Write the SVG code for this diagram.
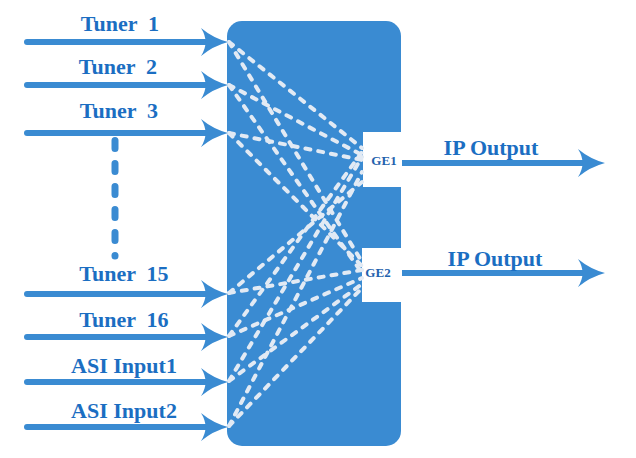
<svg xmlns="http://www.w3.org/2000/svg" width="636" height="458" viewBox="0 0 636 458">
<style>
.lbl{font-family:"Liberation Serif","Times New Roman",serif;font-weight:bold;font-size:22px;fill:#1b6ec2;text-anchor:middle;white-space:pre}
.ge{font-family:"Liberation Serif","Times New Roman",serif;font-weight:bold;font-size:13px;fill:#1f62ad;text-anchor:middle}
.shaft{stroke:#3a8bd2;stroke-width:6;stroke-linecap:round;fill:none}
.head{fill:#3a8bd2}
.dash{stroke:#e2eaf4;stroke-width:4;stroke-linecap:round;stroke-dasharray:5 8;fill:none}
.dots{stroke:#3a8bd2;stroke-width:7;stroke-linecap:round;stroke-dasharray:8 15;fill:none}
</style>
<defs>
<path id="ah" d="M0,0 Q-15,-4 -27,-14 Q-18,0 -27,14 Q-15,4 0,0 Z"/>
</defs>
<rect width="636" height="458" fill="#ffffff"/>
<g id="switch">
<rect x="227" y="21" width="174" height="425" rx="15" ry="15" fill="#3a8bd2"/>
</g>
<g id="ge1">
<rect x="363" y="132" width="40" height="55" fill="#ffffff"/>
<text class="ge" x="384" y="165">GE1</text>
</g>
<g id="ge2">
<rect x="362" y="248" width="41" height="54" fill="#ffffff"/>
<text class="ge" x="378" y="277">GE2</text>
</g>
<g id="connectors">
<g id="mesh">
<line class="dash" x1="229" y1="42" x2="362" y2="148"/>
<line class="dash" x1="229" y1="42" x2="362" y2="262"/>
<line class="dash" x1="229" y1="85" x2="362" y2="155"/>
<line class="dash" x1="229" y1="85" x2="362" y2="273"/>
<line class="dash" x1="229" y1="133" x2="362" y2="160"/>
<line class="dash" x1="229" y1="133" x2="362" y2="266"/>
<line class="dash" x1="229" y1="293" x2="362" y2="270"/>
<line class="dash" x1="229" y1="293" x2="362" y2="182"/>
<line class="dash" x1="229" y1="336" x2="362" y2="278"/>
<line class="dash" x1="229" y1="336" x2="362" y2="152"/>
<line class="dash" x1="229" y1="381" x2="362" y2="284"/>
<line class="dash" x1="229" y1="381" x2="362" y2="157"/>
<line class="dash" x1="229" y1="426" x2="362" y2="288"/>
<line class="dash" x1="229" y1="426" x2="362" y2="172"/>
</g>
<g id="inputs">
<line class="shaft" x1="27" y1="42" x2="214" y2="42"/><use href="#ah" class="head" transform="translate(228,42)"/>
<line class="shaft" x1="27" y1="85" x2="214" y2="85"/><use href="#ah" class="head" transform="translate(228,85)"/>
<line class="shaft" x1="27" y1="133" x2="214" y2="133"/><use href="#ah" class="head" transform="translate(228,133)"/>
<line class="shaft" x1="27" y1="294" x2="214" y2="294"/><use href="#ah" class="head" transform="translate(228,294)"/>
<line class="shaft" x1="27" y1="337" x2="214" y2="337"/><use href="#ah" class="head" transform="translate(228,337)"/>
<line class="shaft" x1="27" y1="382" x2="214" y2="382"/><use href="#ah" class="head" transform="translate(228,382)"/>
<line class="shaft" x1="27" y1="427" x2="214" y2="427"/><use href="#ah" class="head" transform="translate(228,427)"/>
</g>
<g id="outputs">
<line class="shaft" x1="402" y1="163" x2="590" y2="163" style="stroke-linecap:butt"/><use href="#ah" class="head" transform="translate(605,163)"/>
<line class="shaft" x1="402" y1="273" x2="590" y2="273" style="stroke-linecap:butt"/><use href="#ah" class="head" transform="translate(605,273)"/>
</g>
<line class="dots" x1="115" y1="140.5" x2="115" y2="256"/>
</g>
<g id="labels">
<text class="lbl" x="120" y="31" xml:space="preserve">Tuner  1</text>
<text class="lbl" x="118" y="74" xml:space="preserve">Tuner  2</text>
<text class="lbl" x="119" y="118" xml:space="preserve">Tuner  3</text>
<text class="lbl" x="124" y="281" xml:space="preserve">Tuner  15</text>
<text class="lbl" x="124" y="327" xml:space="preserve">Tuner  16</text>
<text class="lbl" x="124" y="373">ASI Input1</text>
<text class="lbl" x="124" y="418">ASI Input2</text>
<text class="lbl" x="491" y="155">IP Output</text>
<text class="lbl" x="495" y="266">IP Output</text>
</g>
</svg>
